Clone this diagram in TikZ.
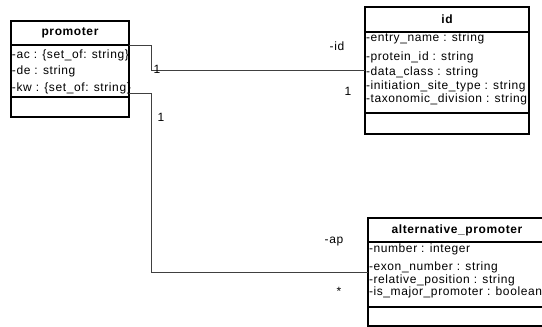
\documentclass[tikz,border=0pt]{standalone}
\usepackage{fontspec}
\setmainfont{Liberation Sans}[LetterSpace=5]
\usetikzlibrary{positioning}
\tikzset{
every node/.style={inner sep=0pt, outer sep=0pt, font=\fontsize{12}{14}\selectfont},
classhead/.style={draw, line width=1.4pt, anchor=north west, font=\bfseries\fontsize{12}{14}\selectfont},
classpart/.style={draw, line width=1.4pt, anchor=north west},
attr/.style={anchor=west},
role/.style={anchor=center},
assoc/.style={draw=black!75, line width=0.8pt},
}
\begin{document}
\begin{tikzpicture}[x=1pt, y=-1pt]
\useasboundingbox (0,0) rectangle (542,327);
% promoter
\node[classhead, minimum width=118, minimum height=24] (prom) at (11,21) {promoter};
\node[classpart, minimum width=118, minimum height=52] (promattr) at (prom.south west) {};
\node[classpart, minimum width=118, minimum height=20] (promops) at (promattr.south west) {};
\node[attr] (prom-ac) at (12,55) {-ac : \{set\_of: string\}};
\node[attr] (prom-de) at (12,71) {-de : string};
\node[attr] (prom-kw) at (12,88) {-kw : \{set\_of: string\}};
% id
\node[classhead, minimum width=164, minimum height=25] (id) at (365,7) {id};
\node[classpart, minimum width=164, minimum height=81] (idattr) at (id.south west) {};
\node[classpart, minimum width=164, minimum height=21] (idops) at (idattr.south west) {};
\node[attr] (id-entry) at (366,38) {-entry\_name : string};
\node[attr] (id-prot) at (366,57) {-protein\_id : string};
\node[attr] (id-class) at (366,72) {-data\_class : string};
\node[attr] (id-init) at (366,86) {-initiation\_site\_type : string};
\node[attr] (id-tax) at (366,99) {-taxonomic\_division : string};
% alternative_promoter
\node[classhead, minimum width=178, minimum height=24] (alt) at (368,218) {alternative\_promoter};
\node[classpart, minimum width=178, minimum height=65] (altattr) at (alt.south west) {};
\node[classpart, minimum width=178, minimum height=19] (altops) at (altattr.south west) {};
\node[attr] (alt-num) at (369,249) {-number : integer};
\node[attr] (alt-exon) at (369,267) {-exon\_number : string};
\node[attr] (alt-rel) at (369,280) {-relative\_position : string};
\node[attr] (alt-major) at (369,292) {-is\_major\_promoter : boolean};
% associations
\coordinate (promA) at (promattr.north east);
\coordinate (promB) at (129,93);
\coordinate (idA) at (365,70);
\coordinate (altA) at (368,272);
\draw[assoc] (promA) -- (151,45) -- (151,70) -- (idA);
\draw[assoc] (promB) -- (151,93) -- (151,272) -- (altA);
% roles and multiplicities
\node[role] (m-prom1) at (157,69) {1};
\node[role] (r-id) at (337,46) {-id};
\node[role] (m-id) at (348,91) {1};
\node[role] (m-prom2) at (161,117) {1};
\node[role] (r-ap) at (334,242) {-ap};
\node[role] (m-ap) at (339,291) {*};
\end{tikzpicture}
\end{document}
